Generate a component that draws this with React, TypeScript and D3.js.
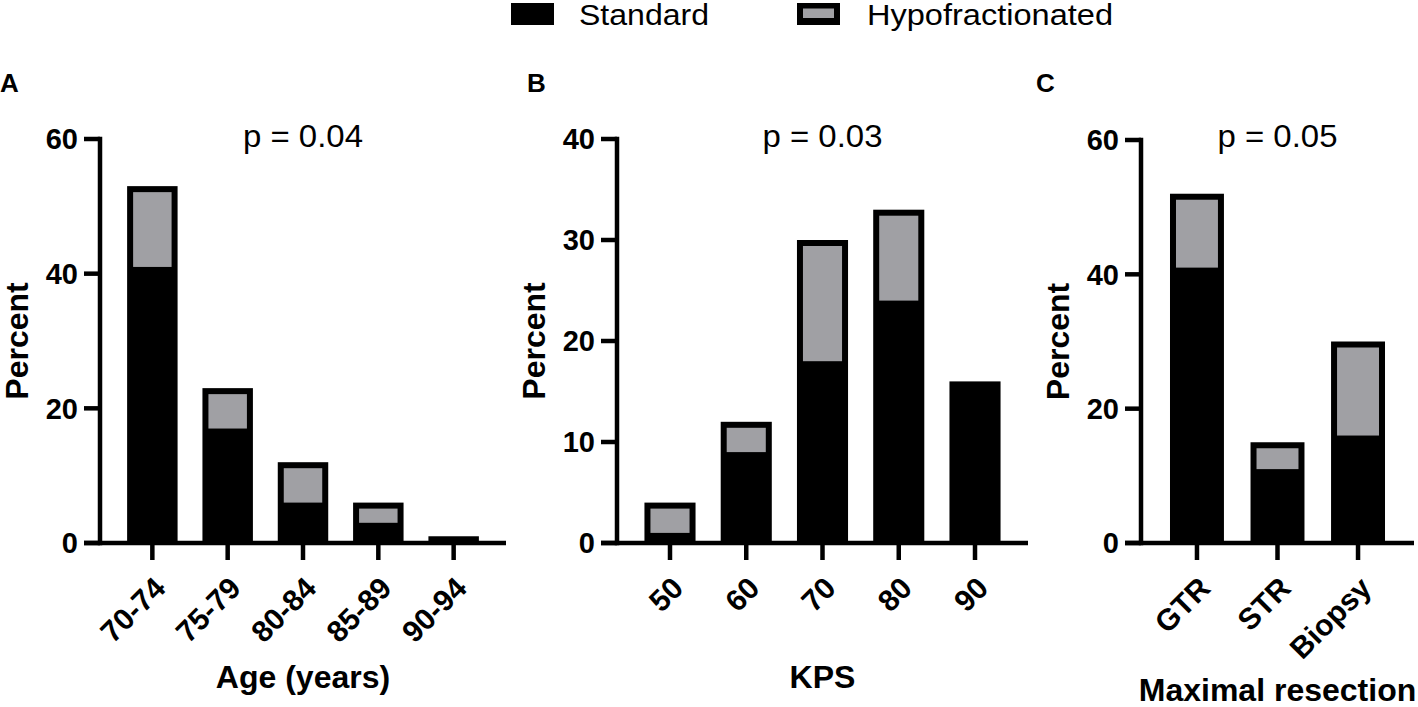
import React from 'react';
import * as d3 from 'd3';

// ---- data ----
const legendLabels = ['Standard', 'Hypofractionated'];

const ageCategories = ['70-74', '75-79', '80-84', '85-89', '90-94'];
const ageStandard = [41, 17, 6, 3, 1];
const ageHypo = [12, 6, 6, 3, 0];
const ageTicks = [0, 20, 40, 60];

const kpsCategories = ['50', '60', '70', '80', '90'];
const kpsStandard = [1, 9, 18, 24, 16];
const kpsHypo = [3, 3, 12, 9, 0];
const kpsTicks = [0, 10, 20, 30, 40];

const resectionCategories = ['GTR', 'STR', 'Biopsy'];
const resectionStandard = [41, 11, 16];
const resectionHypo = [11, 4, 14];
const resectionTicks = [0, 20, 40, 60];

const pLabels = ['p = 0.04', 'p = 0.03', 'p = 0.05'];
const panelLetters = ['A', 'B', 'C'];
const xTitles = ['Age (years)', 'KPS', 'Maximal resection'];
const yTitle = 'Percent';

// ---- style ----
const FONT = "'Liberation Sans', Arial, Helvetica, sans-serif";
const GRAY = '#a0a0a4';
const BORDER = 6;
const AXIS_W = 4.5;

interface PanelProps {
  categories: string[];
  standard: number[];
  hypo: number[];
  ticks: number[];
  x0: number;
  x1: number;
  yTop: number;
  yBottom: number;
  letter: string;
  letterX: number;
  pLabel: string;
  xTitle: string;
  xTitleY: number;
}

function Panel(p: PanelProps) {
  const yMax = p.ticks[p.ticks.length - 1];
  const y = d3.scaleLinear().domain([0, yMax]).range([p.yBottom, p.yTop]);
  const x = d3
    .scaleBand<string>()
    .domain(p.categories)
    .range([p.x0, p.x1])
    .paddingInner(0.33)
    .paddingOuter(0.36);
  const bw = x.bandwidth();
  const stackData = p.categories.map((c, i) => ({ cat: c, Standard: p.standard[i], Hypo: p.hypo[i] }));
  const series = d3.stack<any>().keys(['Standard', 'Hypo'])(stackData);
  const stdSeries = series[0];
  const hypoSeries = series[1];
  const midX = (p.x0 + p.x1) / 2;
  const tickLen = 16;

  return (
    <g>
      <text x={p.letterX} y={92} fontFamily={FONT} fontWeight="bold" fontSize={26} fill="#000">
        {p.letter}
      </text>
      <text
        x={midX - 60}
        y={147}
        fontFamily={FONT}
        fontSize={31}
        fill="#000"
        textLength={120}
        lengthAdjust="spacingAndGlyphs"
      >
        {p.pLabel}
      </text>
      {/* bars */}
      {p.categories.map((c, i) => {
        const total = hypoSeries[i][1];
        const std = stdSeries[i][1];
        const bx = x(c) as number;
        const top = y(total);
        return (
          <g key={c}>
            <rect x={bx} y={top} width={bw} height={y(0) - top} fill="#000" />
            {total > std && (
              <rect
                x={bx + BORDER}
                y={top + BORDER}
                width={bw - 2 * BORDER}
                height={Math.max(0, y(std) - top - BORDER)}
                fill={GRAY}
              />
            )}
          </g>
        );
      })}
      {/* y axis */}
      <line x1={p.x0} x2={p.x0} y1={y(yMax) - AXIS_W / 2} y2={y(0) + AXIS_W / 2} stroke="#000" strokeWidth={AXIS_W} />
      {p.ticks.map((t) => (
        <g key={'yt' + t}>
          <line x1={p.x0 - tickLen} x2={p.x0} y1={y(t)} y2={y(t)} stroke="#000" strokeWidth={AXIS_W} />
          <text
            x={p.x0 - tickLen - 6}
            y={y(t)}
            dy="0.36em"
            textAnchor="end"
            fontFamily={FONT}
            fontWeight="bold"
            fontSize={29}
            fill="#000"
          >
            {t}
          </text>
        </g>
      ))}
      {/* x axis */}
      <line x1={p.x0 - tickLen} x2={p.x1} y1={y(0)} y2={y(0)} stroke="#000" strokeWidth={AXIS_W} />
      {p.categories.map((c) => {
        const cx = (x(c) as number) + bw / 2;
        return (
          <g key={'xt' + c}>
            <line x1={cx} x2={cx} y1={y(0)} y2={y(0) + 17} stroke="#000" strokeWidth={AXIS_W} />
            <text
              transform={`translate(${cx + 15},${y(0) + 47}) rotate(-45)`}
              textAnchor="end"
              fontFamily={FONT}
              fontWeight="bold"
              fontSize={30}
              fill="#000"
            >
              {c}
            </text>
          </g>
        );
      })}
      {/* axis titles */}
      <text
        transform={`translate(${p.x0 - 72},${(p.yTop + p.yBottom) / 2}) rotate(-90)`}
        textAnchor="middle"
        fontFamily={FONT}
        fontWeight="bold"
        fontSize={32}
        fill="#000"
      >
        {yTitle}
      </text>
      <text x={midX} y={p.xTitleY} textAnchor="middle" fontFamily={FONT} fontWeight="bold" fontSize={32} fill="#000">
        {p.xTitle}
      </text>
    </g>
  );
}

export default function App() {
  return (
    <svg
      width={1418}
      height={707}
      viewBox="0 0 1418 707"
      style={{ position: 'absolute', left: 0, top: 0, background: '#fff' }}
    >
      <rect width={1418} height={707} fill="#fff" />
      {/* legend */}
      <rect x={511} y={3} width={43} height={22} fill="#000" />
      <text
        x={579}
        y={25}
        fontFamily={FONT}
        fontSize={29}
        fill="#000"
        textLength={130}
        lengthAdjust="spacingAndGlyphs"
      >
        {legendLabels[0]}
      </text>
      <rect x={797} y={3} width={43} height={22} fill="#000" />
      <rect x={803} y={8.5} width={31} height={9.5} fill={GRAY} />
      <text
        x={867}
        y={25}
        fontFamily={FONT}
        fontSize={29}
        fill="#000"
        textLength={246}
        lengthAdjust="spacingAndGlyphs"
      >
        {legendLabels[1]}
      </text>

      <Panel
        categories={ageCategories}
        standard={ageStandard}
        hypo={ageHypo}
        ticks={ageTicks}
        x0={100}
        x1={506}
        yTop={139}
        yBottom={543}
        letter={panelLetters[0]}
        letterX={0}
        pLabel={pLabels[0]}
        xTitle={xTitles[0]}
        xTitleY={688}
      />
      <Panel
        categories={kpsCategories}
        standard={kpsStandard}
        hypo={kpsHypo}
        ticks={kpsTicks}
        x0={617}
        x1={1028}
        yTop={139}
        yBottom={543}
        letter={panelLetters[1]}
        letterX={527}
        pLabel={pLabels[1]}
        xTitle={xTitles[1]}
        xTitleY={688}
      />
      <Panel
        categories={resectionCategories}
        standard={resectionStandard}
        hypo={resectionHypo}
        ticks={resectionTicks}
        x0={1141}
        x1={1414}
        yTop={140}
        yBottom={543}
        letter={panelLetters[2]}
        letterX={1036}
        pLabel={pLabels[2]}
        xTitle={xTitles[2]}
        xTitleY={701}
      />
    </svg>
  );
}
